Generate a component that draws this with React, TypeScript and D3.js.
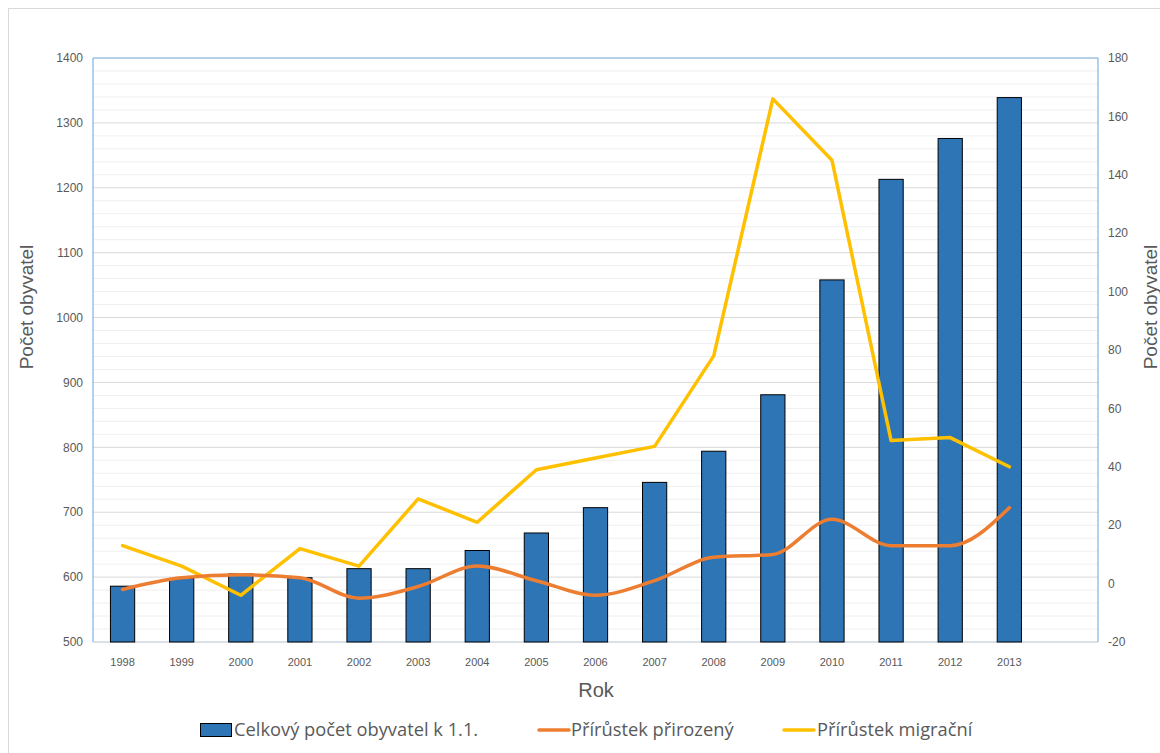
import React from "react";
import * as d3 from "d3";

const years = ["1998","1999","2000","2001","2002","2003","2004","2005","2006","2007","2008","2009","2010","2011","2012","2013"];
const population = [586, 598, 605, 599, 613, 613, 641, 668, 707, 746, 794, 881, 1058, 1213, 1276, 1339];
const naturalIncrease = [-2, 2, 3, 2, -5, -1, 6, 1, -4, 1, 9, 10, 22, 13, 13, 26];
const migrationIncrease = [13, 6, -4, 12, 6, 29, 21, 39, 43, 47, 78, 166, 145, 49, 50, 40];
const leftTicks = [500, 600, 700, 800, 900, 1000, 1100, 1200, 1300, 1400];
const rightTicks = [-20, 0, 20, 40, 60, 80, 100, 120, 140, 160, 180];
const seriesNames = ["Celkový počet obyvatel k 1.1.", "Přírůstek přirozený", "Přírůstek migrační"];

const W = 1160, H = 753;
const L = 93, R = 1098, T = 58, B = 642;
const FONT = "'Liberation Sans', Arial, sans-serif";
const LFONT = "'Open Sans', 'Liberation Sans', sans-serif";
const TXT = "#595959";

export default function App() {
  const slots = [...years, ""];
  const x = d3.scaleBand<string>().domain(slots).range([L, R]).paddingInner(0).paddingOuter(0);
  const bw = x.bandwidth();
  const cx = (y: string) => (x(y) as number) + bw / 2;
  const yL = d3.scaleLinear().domain([500, 1400]).range([B, T]);
  const yR = d3.scaleLinear().domain([-20, 180]).range([B, T]);
  const minor = d3.range(500, 1401, 20);
  const barW = bw * 0.41;

  const lineStraight = d3.line<number>().x((_, i) => cx(years[i])).y(v => yR(v));
  const lineSmooth = d3.line<number>().x((_, i) => cx(years[i])).y(v => yR(v)).curve(d3.curveMonotoneX);

  const legendY = 730;
  return (
    <svg width={W} height={H} style={{ position: "absolute", left: 0, top: 0, fontFamily: FONT }}>
      <rect x={0} y={0} width={W} height={H} fill="#fff" />
      <rect x={8.5} y={8.5} width={W + 20} height={H + 20} fill="none" stroke="#d9d9d9" />
      {minor.map(v => (
        <line key={"m" + v} x1={L} x2={R} y1={yL(v)} y2={yL(v)} stroke={v % 100 === 0 ? "#d9d9d9" : "#efefef"} strokeWidth={1} />
      ))}
      <line x1={L} x2={L} y1={T} y2={B} stroke="#7fb3e6" strokeWidth={1.2} />
      <line x1={R} x2={R} y1={T} y2={B} stroke="#7fb3e6" strokeWidth={1.2} />
      <line x1={L} x2={R} y1={T} y2={T} stroke="#7fb3e6" strokeWidth={1.2} />
      <line x1={L} x2={R} y1={B} y2={B} stroke="#c9d4df" strokeWidth={1.2} />
      {years.map((yr, i) => (
        <rect key={yr} x={cx(yr) - barW / 2} y={yL(population[i])} width={barW} height={B - yL(population[i])}
          fill="#2e75b6" stroke="#000" strokeWidth={1} />
      ))}
      <path d={lineStraight(migrationIncrease) || ""} fill="none" stroke="#ffc000" strokeWidth={3.5} strokeLinejoin="round" strokeLinecap="round" />
      <path d={lineSmooth(naturalIncrease) || ""} fill="none" stroke="#ed7d31" strokeWidth={3.5} strokeLinecap="round" />
      {leftTicks.map(v => (
        <text key={"l" + v} x={83} y={yL(v)} dy="0.35em" textAnchor="end" fontSize={12} fill={TXT}>{v}</text>
      ))}
      {rightTicks.map(v => (
        <text key={"r" + v} x={1108} y={yR(v)} dy="0.35em" textAnchor="start" fontSize={12} fill={TXT}>{v}</text>
      ))}
      {years.map(yr => (
        <text key={"t" + yr} x={cx(yr)} y={662} dy="0.35em" textAnchor="middle" fontSize={11} fill={TXT}>{yr}</text>
      ))}
      <text transform={`translate(33,307) rotate(-90)`} textAnchor="middle" fontSize={19} fill={TXT}>Počet obyvatel</text>
      <text transform={`translate(1157,307) rotate(-90)`} textAnchor="middle" fontSize={19} fill={TXT}>Počet obyvatel</text>
      <text x={596} y={697} textAnchor="middle" fontSize={20} fill={TXT}>Rok</text>
      <g fontFamily={LFONT} fontSize={18.3} fill={TXT}>
        <rect x={200.5} y={legendY - 6.5} width={31} height={13} fill="#2e75b6" stroke="#000" strokeWidth={1} />
        <text x={234} y={legendY} dy="0.35em">{seriesNames[0]}</text>
        <line x1={539} x2={569} y1={legendY} y2={legendY} stroke="#ed7d31" strokeWidth={3.5} strokeLinecap="round" />
        <text x={571} y={legendY} dy="0.35em">{seriesNames[1]}</text>
        <line x1={784} x2={814} y1={legendY} y2={legendY} stroke="#ffc000" strokeWidth={3.5} strokeLinecap="round" />
        <text x={817} y={legendY} dy="0.35em">{seriesNames[2]}</text>
      </g>
    </svg>
  );
}
